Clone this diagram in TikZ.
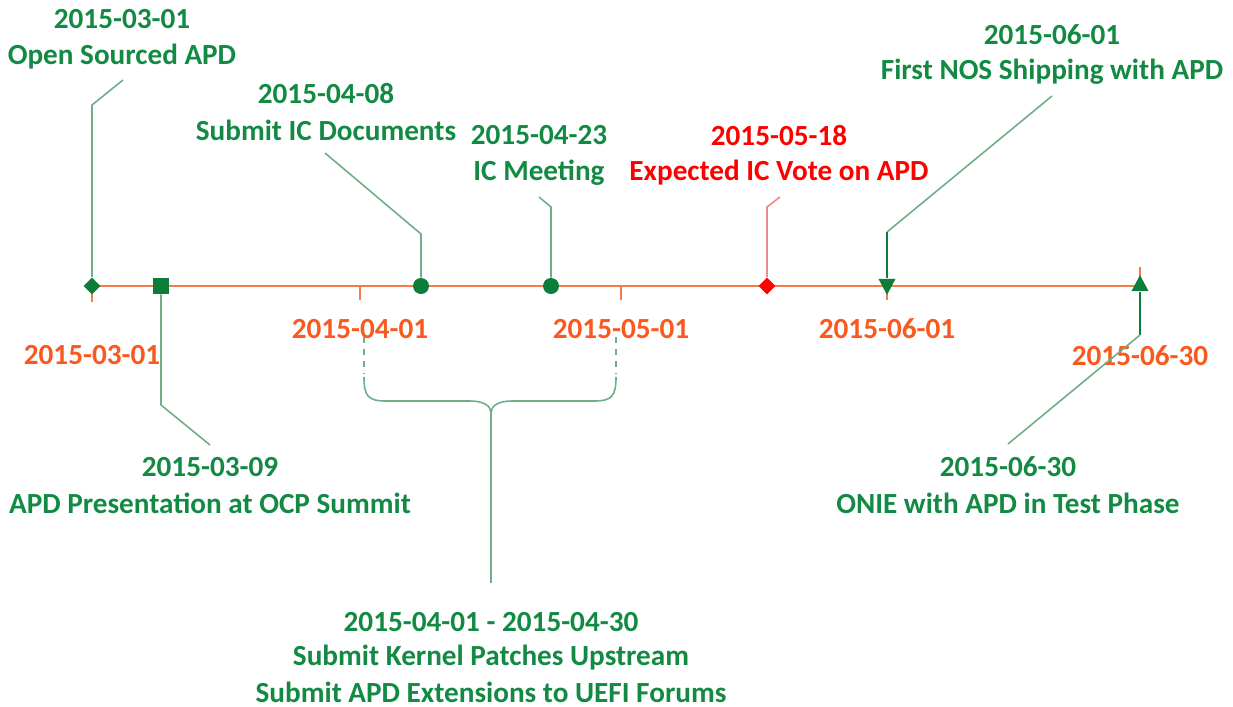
\documentclass[tikz,border=0pt]{standalone}
\usepackage{fontspec}
\setmainfont{Carlito}
\usetikzlibrary{shapes.geometric}
\definecolor{tgreen}{HTML}{128A43}
\definecolor{mgreen}{HTML}{0C7D3A}
\definecolor{lgreen}{HTML}{6FAE88}
\definecolor{tor}{HTML}{F9591F}
\definecolor{axor}{HTML}{F47C4A}
\definecolor{lred}{HTML}{F08A8A}
\begin{document}
\begin{tikzpicture}[x=0.5pt,y=-0.5pt,
  lbl/.style={font=\fontsize{14.6}{17}\selectfont\bfseries, text=tgreen, inner sep=0pt, anchor=center},
  redlbl/.style={lbl, text=red},
  axlbl/.style={lbl, text=tor},
  leader/.style={draw=lgreen, line width=0.8pt},
  axisline/.style={draw=axor, line width=1pt},
  mk/.style={fill=mgreen, draw=none, inner sep=0pt}]
\useasboundingbox (0,0) rectangle (1233,707);
% axis
\coordinate (a0) at (88,286);
\coordinate (a1) at (1142,286);
\draw[axisline] (a0) -- (a1);
\draw[axisline] (92,286) -- (92,302);
\draw[axisline] (360,286) -- (360,300);
\draw[axisline] (621,286) -- (621,300);
\draw[axisline] (887,286) -- (887,300);
\draw[axisline] (1140,286) -- (1140,267);
% axis labels
\node[axlbl] (l1) at (92,355) {2015-03-01};
\node[axlbl] (l2) at (360,329) {2015-04-01};
\node[axlbl] (l3) at (621,329) {2015-05-01};
\node[axlbl] (l4) at (887,329) {2015-06-01};
\node[axlbl] (l5) at (1140,356) {2015-06-30};
% markers
\node[mk, diamond, minimum width=8.5pt, minimum height=8.5pt] (m1) at (92,286) {};
\node[mk, rectangle, minimum size=8pt] (m2) at (161,286) {};
\node[mk, circle, minimum size=8pt] (m3) at (421,286) {};
\node[mk, circle, minimum size=8pt] (m4) at (551,286) {};
\node[diamond, fill=red, inner sep=0pt, minimum width=8.5pt, minimum height=8.5pt] (m5) at (767,286) {};
\node[mk, isosceles triangle, shape border rotate=-90, isosceles triangle apex angle=60, isosceles triangle stretches, minimum width=8.5pt, minimum height=8pt, inner sep=0pt] (m6) at (887,284) {};
\node[mk, isosceles triangle, shape border rotate=90, isosceles triangle apex angle=60, isosceles triangle stretches, minimum width=8.5pt, minimum height=8pt, inner sep=0pt] (m7) at (1140,286) {};
% leaders
\coordinate (c1) at (92,105); \coordinate (e1) at (123,80);
\draw[leader] (m1.north) -- (c1) -- (e1);
\coordinate (c2) at (421,234); \coordinate (e2) at (325,153);
\draw[leader] (m3.north) -- (c2) -- (e2);
\coordinate (c3) at (551,207); \coordinate (e3) at (539,197);
\draw[leader] (m4.north) -- (c3) -- (e3);
\coordinate (c4) at (767,207); \coordinate (e4) at (780,197);
\draw[draw=lred, line width=0.8pt] (m5.north) -- (c4) -- (e4);
\coordinate (c5) at (887,232); \coordinate (e5) at (1052,96);
\draw[leader] (e5) -- (c5);
\draw[draw=mgreen, line width=0.8pt] (c5) -- (m6.north);
\coordinate (c6) at (161,405); \coordinate (e6) at (210,445);
\draw[leader] (m2.south) -- (c6) -- (e6);
\coordinate (c7) at (1140,335); \coordinate (e7) at (1008,444);
\draw[draw=mgreen, line width=0.8pt] (m7.south) -- (c7);
\draw[leader] (c7) -- (e7);
% bracket
\coordinate (b1) at (364,337); \coordinate (b2) at (616,337);
\coordinate (bm) at (491,413); \coordinate (bs) at (491,583);
\draw[leader, dashed] (b1) -- (364,374);
\draw[leader, dashed] (b2) -- (616,374);
\draw[leader] (364,377) .. controls (364,396) and (368,401) .. (386,401) -- (470,401) .. controls (484,401) and (491,406) .. (bm)
  .. controls (491,406) and (498,401) .. (512,401) -- (594,401) .. controls (612,401) and (616,396) .. (616,377);
\draw[leader] (bm) -- (bs);
% event labels
\node[lbl] (t1a) at (122,19) {2015-03-01};
\node[lbl] (t1b) at (122,57) {Open Sourced APD};
\node[lbl] (t2a) at (326,94) {2015-04-08};
\node[lbl] (t2b) at (326,130) {Submit IC Documents};
\node[lbl] (t3a) at (539,135) {2015-04-23};
\node[lbl] (t3b) at (539,173) {IC Meeting};
\node[redlbl] (t4a) at (779,136) {2015-05-18};
\node[redlbl] (t4b) at (779,173) {Expected IC Vote on APD};
\node[lbl] (t5a) at (1052,35) {2015-06-01};
\node[lbl] (t5b) at (1052,72) {First NOS Shipping with APD};
\node[lbl] (t6a) at (210,467) {2015-03-09};
\node[lbl] (t6b) at (210,503) {APD Presentation at OCP Summit};
\node[lbl] (t7a) at (1008,467) {2015-06-30};
\node[lbl] (t7b) at (1008,503) {ONIE with APD in Test Phase};
\node[lbl] (t8a) at (491,622) {2015-04-01 - 2015-04-30};
\node[lbl] (t8b) at (491,658) {Submit Kernel Patches Upstream};
\node[lbl] (t8c) at (491,692) {Submit APD Extensions to UEFI Forums};
\end{tikzpicture}
\end{document}
